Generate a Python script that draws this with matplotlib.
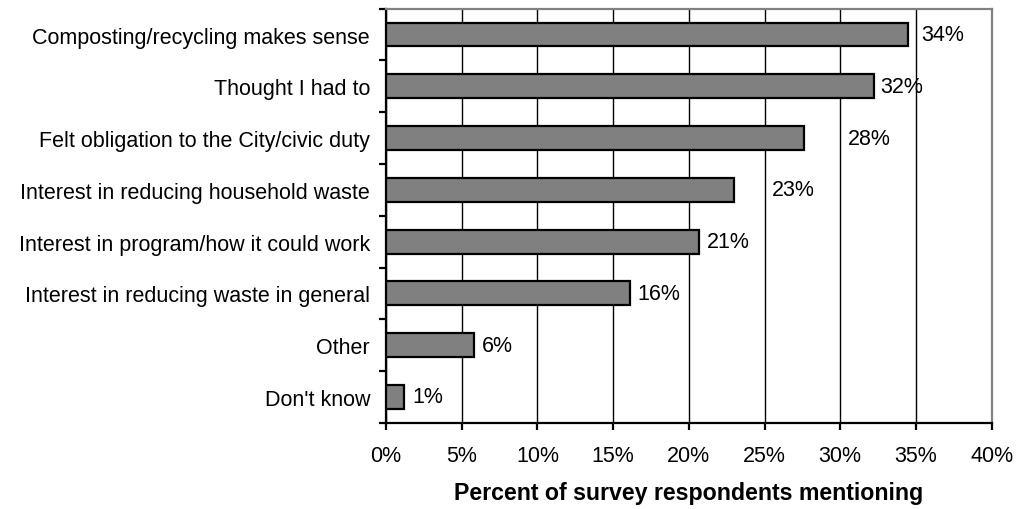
import matplotlib
matplotlib.use("Agg")
import matplotlib.pyplot as plt
from matplotlib.ticker import FixedLocator, PercentFormatter

# reasons given, top to bottom
reasons = [
    "Composting/recycling makes sense",
    "Thought I had to",
    "Felt obligation to the City/civic duty",
    "Interest in reducing household waste",
    "Interest in program/how it could work",
    "Interest in reducing waste in general",
    "Other",
    "Don't know",
]
percents = [34.45, 32.2, 27.6, 23.0, 20.7, 16.1, 5.8, 1.2]
value_labels = ["34%", "32%", "28%", "23%", "21%", "16%", "6%", "1%"]
xticks = [0, 5, 10, 15, 20, 25, 30, 35, 40]

# label gap after bar end, in points (the original places them unevenly)
label_gap = [10, 4.5, 31.5, 27, 5.5, 5.5, 5.5, 5.5]

plt.rcParams["font.family"] = ["Liberation Sans", "DejaVu Sans"]

fig, ax = plt.subplots(figsize=(10.16, 5.10), dpi=100)
fig.subplots_adjust(left=0.38, right=0.976, top=0.981, bottom=0.169)

ypos = list(range(len(reasons)))
ax.barh(ypos, percents, height=0.46, color="#808080", edgecolor="black",
        linewidth=1.6, zorder=3)

for y, v, lab, gap in zip(ypos, percents, value_labels, label_gap):
    ax.annotate(lab, (v, y), xytext=(gap, 0), textcoords="offset points",
                va="center", ha="left", fontsize=15.5, zorder=4)

ax.set_xlim(0, 40)
ax.set_ylim(len(reasons) - 0.5, -0.5)
ax.set_xticks(xticks)
ax.xaxis.set_major_formatter(PercentFormatter(decimals=0))
ax.grid(axis="x", color="black", linewidth=1)
ax.set_axisbelow(True)

# category names centred on bars, tick marks between categories
ax.yaxis.set_major_locator(FixedLocator([i - 0.5 for i in range(len(reasons) + 1)]))
ax.yaxis.set_major_formatter(plt.NullFormatter())
ax.yaxis.set_minor_locator(FixedLocator(ypos))
ax.set_yticklabels(reasons, minor=True)
ax.tick_params(axis="y", which="minor", length=0, pad=11.5, labelsize=15.5)
ax.tick_params(axis="y", which="major", length=5, width=1.6, direction="out")
ax.tick_params(axis="x", length=5, width=1.6, direction="out", pad=11,
               labelsize=15.5)

for s in ("left", "bottom"):
    ax.spines[s].set_linewidth(1.6)
    ax.spines[s].set_color("black")
for s in ("top", "right"):
    ax.spines[s].set_linewidth(1.6)
    ax.spines[s].set_color("#808080")

ax.set_xlabel("Percent of survey respondents mentioning", fontsize=16.7,
              fontweight="bold", labelpad=11)

fig.savefig("out.png", dpi=100)
